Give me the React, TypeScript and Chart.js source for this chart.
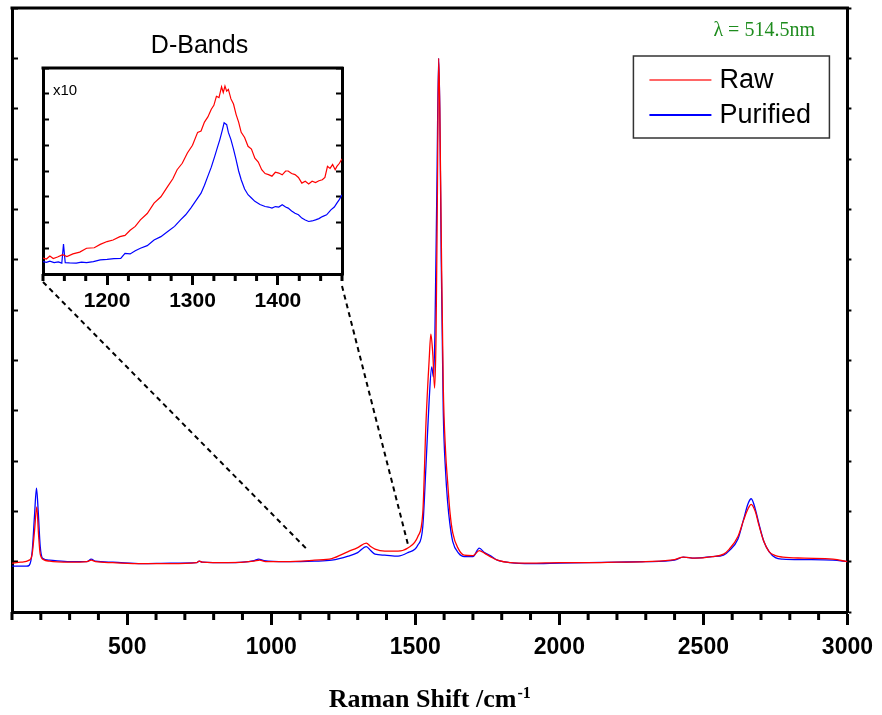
import React, { useEffect, useRef } from 'react';
import { Chart, registerables } from 'chart.js';

Chart.register(...registerables);

// ---------- Main spectrum ----------
const rawShift = [100, 130, 160, 170, 178, 186, 192, 198, 210, 230, 300, 360, 375, 390, 450, 550, 650, 740, 750, 760, 850, 940, 960, 980, 1050, 1150, 1210, 1267, 1300, 1330, 1345, 1360, 1394, 1440, 1474, 1509, 1526, 1537, 1548, 1554, 1561, 1567, 1572, 1577, 1581, 1585, 1590, 1597, 1605, 1612, 1620, 1630, 1650, 1670, 1700, 1722, 1740, 1760, 1785, 1830, 1900, 2000, 2100, 2200, 2300, 2400, 2430, 2470, 2530, 2570, 2590, 2620, 2640, 2655, 2666, 2680, 2693, 2710, 2728, 2750, 2776, 2850, 2950, 3000];
const rawIntensity = [0.97, 0.99, 1.03, 1.15, 1.6, 2.09, 1.55, 1.15, 1.04, 1.01, 0.99, 1.0, 1.03, 1.0, 0.98, 0.96, 0.96, 0.98, 1.01, 0.99, 0.98, 1.01, 1.03, 1.0, 1.0, 1.03, 1.06, 1.2, 1.28, 1.37, 1.3, 1.25, 1.21, 1.21, 1.27, 1.5, 1.97, 3.75, 5.0, 5.52, 5.1, 4.45, 5.5, 8.5, 11.0, 10.0, 7.5, 4.5, 3.2, 2.6, 2.0, 1.57, 1.25, 1.13, 1.12, 1.22, 1.17, 1.1, 1.03, 0.98, 0.97, 0.98, 0.98, 0.99, 1.0, 1.04, 1.09, 1.07, 1.1, 1.15, 1.25, 1.5, 1.83, 2.05, 2.14, 2.0, 1.72, 1.4, 1.2, 1.12, 1.09, 1.07, 1.05, 1.0];

const purShift = [100, 150, 160, 170, 178, 185, 191, 198, 206, 230, 300, 360, 375, 390, 450, 550, 650, 740, 750, 760, 850, 940, 956, 975, 1050, 1150, 1210, 1267, 1300, 1330, 1345, 1360, 1394, 1440, 1474, 1509, 1526, 1537, 1548, 1557, 1563, 1568, 1575, 1581, 1585, 1590, 1597, 1605, 1612, 1620, 1630, 1650, 1670, 1700, 1722, 1740, 1760, 1785, 1830, 1900, 2000, 2100, 2200, 2300, 2400, 2430, 2470, 2530, 2570, 2590, 2620, 2640, 2655, 2666, 2680, 2693, 2710, 2728, 2750, 2776, 2850, 2950, 3000];
const purIntensity = [0.91, 0.91, 0.93, 1.2, 1.9, 2.46, 2.0, 1.3, 1.07, 1.03, 1.0, 1.0, 1.05, 1.01, 0.99, 0.96, 0.97, 0.98, 1.01, 0.99, 0.98, 1.02, 1.05, 1.02, 1.0, 1.01, 1.03, 1.11, 1.18, 1.3, 1.22, 1.15, 1.13, 1.11, 1.18, 1.33, 1.7, 2.9, 4.2, 4.87, 4.67, 5.5, 8.5, 11.0, 10.0, 7.0, 4.0, 2.8, 2.2, 1.75, 1.4, 1.17, 1.1, 1.1, 1.27, 1.18, 1.12, 1.03, 0.98, 0.96, 0.97, 0.98, 0.99, 1.0, 1.03, 1.09, 1.07, 1.1, 1.13, 1.22, 1.45, 1.85, 2.15, 2.25, 2.05, 1.75, 1.4, 1.2, 1.08, 1.05, 1.04, 1.03, 1.0];

const mainXMin = 100;
const mainXMax = 3000;
const mainXLabels = [500, 1000, 1500, 2000, 2500, 3000];
const mainXMinorStep = 100;
const mainYMin = 0;
const mainYMax = 12;

// ---------- Inset (D-bands, x10) ----------
const insetRawShift = [1125, 1129, 1133, 1137, 1142, 1148, 1153, 1160, 1168, 1176, 1185, 1192, 1200, 1207, 1215, 1221, 1227, 1233, 1239, 1247, 1255, 1263, 1271, 1277, 1282, 1288, 1294, 1300, 1306, 1310, 1314, 1318, 1322, 1325, 1328, 1331, 1334, 1336, 1338, 1340, 1342, 1345, 1348, 1351, 1354, 1357, 1361, 1365, 1369, 1373, 1377, 1381, 1385, 1389, 1393, 1397, 1401, 1405, 1409, 1412, 1416, 1420, 1424, 1428, 1432, 1436, 1440, 1444, 1448, 1452, 1455, 1458, 1461, 1464, 1467, 1469, 1472, 1475];
const insetRawValue = [0.62, 0.58, 0.7, 0.6, 0.66, 0.75, 0.68, 0.78, 0.85, 1.0, 1.02, 1.15, 1.26, 1.32, 1.45, 1.5, 1.7, 1.85, 2.1, 2.35, 2.75, 3.0, 3.4, 3.7, 4.05, 4.3, 4.7, 5.0, 5.5, 5.55, 5.9, 6.1, 6.4, 6.55, 6.9, 6.85, 7.27, 7.05, 7.3, 7.1, 7.17, 6.8, 6.6, 6.2, 5.9, 5.5, 5.3, 4.96, 4.85, 4.5, 4.35, 4.05, 3.9, 3.86, 3.8, 3.95, 3.92, 3.85, 4.0, 4.0, 3.9, 3.86, 3.75, 3.53, 3.6, 3.5, 3.6, 3.55, 3.62, 3.66, 3.75, 4.18, 4.1, 4.25, 4.05, 4.18, 4.3, 4.47];

const insetPurShift = [1125, 1129, 1133, 1138, 1143, 1147, 1149, 1151, 1156, 1164, 1170, 1176, 1184, 1192, 1200, 1208, 1216, 1221, 1227, 1233, 1239, 1247, 1255, 1263, 1271, 1279, 1286, 1292, 1298, 1304, 1310, 1314, 1318, 1322, 1326, 1329, 1332, 1335, 1337, 1340, 1342, 1345, 1348, 1351, 1354, 1357, 1361, 1365, 1369, 1373, 1379, 1385, 1389, 1393, 1397, 1401, 1405, 1409, 1412, 1416, 1420, 1424, 1428, 1432, 1436, 1440, 1444, 1448, 1452, 1457, 1462, 1466, 1469, 1472, 1475];
const insetPurValue = [0.48, 0.45, 0.5, 0.44, 0.47, 0.42, 1.16, 0.44, 0.43, 0.42, 0.46, 0.44, 0.48, 0.55, 0.57, 0.6, 0.61, 0.8, 0.78, 0.9, 1.0, 1.1, 1.32, 1.45, 1.65, 1.85, 2.1, 2.3, 2.56, 2.85, 3.14, 3.45, 3.8, 4.15, 4.57, 4.9, 5.22, 5.6, 5.87, 5.8, 5.5, 5.22, 4.85, 4.44, 4.0, 3.66, 3.3, 3.08, 2.95, 2.82, 2.7, 2.62, 2.6, 2.56, 2.62, 2.6, 2.69, 2.6, 2.56, 2.45, 2.36, 2.3, 2.17, 2.1, 2.04, 2.06, 2.1, 2.15, 2.23, 2.3, 2.49, 2.6, 2.75, 2.9, 3.08];

const insetXMin = 1125;
const insetXMax = 1475;
const insetXLabels = [1200, 1300, 1400];
const insetXMinorStep = 25;
const insetYMin = 0;
const insetYMax = 8;
// y values on the main spectrum where the zoom guide lines meet it
const zoomLinkY = [1.24, 1.33];

const seriesLabels = ['Raw', 'Purified'];
const seriesColors = ['#FF0000', '#0000FF'];
const laserText = 'λ = 514.5nm';
const insetTitle = 'D-Bands';
const insetScaleText = 'x10';
const xTitleMain = 'Raman Shift /cm';
const xTitleSup = '-1';

const SANS = '"Liberation Sans", Arial, sans-serif';
const SERIF = '"Liberation Serif", "Times New Roman", serif';

const W = 882;
const H = 715;

function toPoints(xs: number[], ys: number[]) {
  return xs.map((x, i) => ({ x, y: ys[i] }));
}

export default function App() {
  const mainRef = useRef<HTMLCanvasElement | null>(null);
  const insetRef = useRef<HTMLCanvasElement | null>(null);

  useEffect(() => {
    document.body.style.margin = '0';
    if (!mainRef.current || !insetRef.current) return;

    const mainDecor = {
      id: 'mainDecor',
      afterDraw(chart: any) {
        const ctx = chart.ctx;
        const a = chart.chartArea;
        const xs = chart.scales.x;
        ctx.save();
        // top frame line
        ctx.strokeStyle = '#000';
        ctx.lineWidth = 3;
        ctx.beginPath();
        ctx.moveTo(a.left - 1.5, a.top);
        ctx.lineTo(a.right + 1.5, a.top);
        ctx.stroke();
        // minor x ticks
        ctx.lineWidth = 3;
        for (let v = mainXMin; v <= mainXMax; v += mainXMinorStep) {
          if (mainXLabels.includes(v)) continue;
          const px = xs.getPixelForValue(v);
          ctx.beginPath();
          ctx.moveTo(px, a.bottom);
          ctx.lineTo(px, a.bottom + 8);
          ctx.stroke();
        }
        // x title with superscript
        ctx.fillStyle = '#000';
        ctx.textBaseline = 'alphabetic';
        ctx.font = `bold 26px ${SERIF}`;
        const w1 = ctx.measureText(xTitleMain).width;
        ctx.font = `bold 16px ${SERIF}`;
        const w2 = ctx.measureText(xTitleSup).width;
        const cx = (a.left + a.right) / 2;
        const x0 = cx - (w1 + w2 + 1) / 2;
        ctx.font = `bold 26px ${SERIF}`;
        ctx.textAlign = 'left';
        ctx.fillText(xTitleMain, x0, 707);
        ctx.font = `bold 16px ${SERIF}`;
        ctx.fillText(xTitleSup, x0 + w1 + 1, 698);
        // laser wavelength
        ctx.fillStyle = '#1E8C1E';
        ctx.font = `20px ${SERIF}`;
        ctx.fillText(laserText, a.right - 134, a.top + 28);
        // legend
        const lx = a.right - 214;
        const ly = a.top + 48;
        ctx.strokeStyle = '#333';
        ctx.lineWidth = 1.5;
        ctx.strokeRect(lx, ly, 196, 82);
        ctx.font = `27px ${SANS}`;
        ctx.textBaseline = 'middle';
        chart.data.datasets.forEach((ds: any, i: number) => {
          const rowY = ly + 24 + i * 35;
          ctx.strokeStyle = ds.borderColor;
          ctx.globalAlpha = i === 0 ? 0.6 : 1;
          ctx.lineWidth = 2;
          ctx.beginPath();
          ctx.moveTo(lx + 16, rowY);
          ctx.lineTo(lx + 78, rowY);
          ctx.stroke();
          ctx.globalAlpha = 1;
          ctx.fillStyle = '#000';
          ctx.fillText(ds.label, lx + 86, rowY + 1);
        });
        ctx.restore();
      },
    };

    const mainChart = new Chart(mainRef.current, {
      type: 'line',
      data: {
        datasets: [
          {
            label: seriesLabels[0],
            data: toPoints(rawShift, rawIntensity),
            borderColor: seriesColors[0],
            borderWidth: 1.3,
            pointRadius: 0,
            cubicInterpolationMode: 'monotone',
          },
          {
            label: seriesLabels[1],
            data: toPoints(purShift, purIntensity),
            borderColor: seriesColors[1],
            borderWidth: 1.3,
            pointRadius: 0,
            cubicInterpolationMode: 'monotone',
          },
        ],
      },
      options: {
        animation: false,
        responsive: false,
        maintainAspectRatio: false,
        layout: { padding: { top: 8, left: 0, right: 0, bottom: 0 } },
        plugins: { legend: { display: false }, tooltip: { enabled: false }, title: { display: false } },
        scales: {
          x: {
            type: 'linear',
            position: 'bottom',
            min: mainXMin,
            max: mainXMax,
            afterBuildTicks: (s: any) => {
              s.ticks = mainXLabels.map((v) => ({ value: v }));
            },
            afterFit: (s: any) => {
              s.height = H - 612;
            },
            border: { display: true, width: 3, color: '#000' },
            grid: { drawOnChartArea: false, drawTicks: true, tickLength: 13, tickWidth: 3, tickColor: '#000' },
            ticks: {
              font: { family: SANS, size: 23, weight: 'bold' },
              color: '#000',
              padding: 9,
              maxRotation: 0,
              autoSkip: false,
              callback: (v: any) => String(v),
            },
          },
          y: {
            type: 'linear',
            position: 'left',
            min: mainYMin,
            max: mainYMax,
            afterFit: (s: any) => {
              s.width = 12;
            },
            border: { display: true, width: 3, color: '#000' },
            grid: { drawOnChartArea: false, drawTicks: true, tickLength: -6, tickWidth: 2, tickColor: '#000' },
            ticks: { display: false, stepSize: 1 },
          },
          y2: {
            type: 'linear',
            position: 'right',
            min: mainYMin,
            max: mainYMax,
            afterFit: (s: any) => {
              s.width = W - 851;
            },
            border: { display: true, width: 3, color: '#000' },
            grid: { drawOnChartArea: false, drawTicks: true, tickLength: 4, tickWidth: 2, tickColor: '#000' },
            ticks: { display: false, stepSize: 1 },
          },
        },
      } as any,
      plugins: [mainDecor],
    });

    const insetDecor = {
      id: 'insetDecor',
      afterDraw(chart: any) {
        const ctx = chart.ctx;
        const a = chart.chartArea;
        const xs = chart.scales.x;
        ctx.save();
        ctx.strokeStyle = '#000';
        ctx.lineWidth = 3;
        ctx.beginPath();
        ctx.moveTo(a.left - 1.5, a.top);
        ctx.lineTo(a.right + 1.5, a.top);
        ctx.stroke();
        for (let v = insetXMin; v <= insetXMax; v += insetXMinorStep) {
          if (insetXLabels.includes(v)) continue;
          const px = xs.getPixelForValue(v);
          ctx.beginPath();
          ctx.moveTo(px, a.bottom);
          ctx.lineTo(px, a.bottom + 7);
          ctx.stroke();
        }
        ctx.fillStyle = '#000';
        ctx.textAlign = 'center';
        ctx.textBaseline = 'alphabetic';
        ctx.font = `25px ${SANS}`;
        ctx.fillText(insetTitle, (a.left + a.right) / 2 + 7, a.top - 15);
        ctx.textAlign = 'left';
        ctx.font = `15px ${SANS}`;
        ctx.fillText(insetScaleText, a.left + 10, a.top + 27);
        // zoom guide lines to the main spectrum
        const mx = mainChart.scales.x;
        const my = mainChart.scales.y;
        ctx.setLineDash([5, 4]);
        ctx.lineWidth = 2;
        ctx.beginPath();
        ctx.moveTo(a.left, a.bottom + 8);
        ctx.lineTo(mx.getPixelForValue(insetXMin), my.getPixelForValue(zoomLinkY[0]));
        ctx.moveTo(a.right, a.bottom + 12);
        ctx.lineTo(mx.getPixelForValue(insetXMax), my.getPixelForValue(zoomLinkY[1]));
        ctx.stroke();
        ctx.restore();
      },
    };

    const insetChart = new Chart(insetRef.current, {
      type: 'line',
      data: {
        datasets: [
          {
            label: seriesLabels[0],
            data: toPoints(insetRawShift, insetRawValue),
            borderColor: seriesColors[0],
            borderWidth: 1.2,
            pointRadius: 0,
            tension: 0,
          },
          {
            label: seriesLabels[1],
            data: toPoints(insetPurShift, insetPurValue),
            borderColor: seriesColors[1],
            borderWidth: 1.2,
            pointRadius: 0,
            tension: 0,
          },
        ],
      },
      options: {
        animation: false,
        responsive: false,
        maintainAspectRatio: false,
        layout: { padding: { top: 68, left: 0, right: 0, bottom: 0 } },
        plugins: { legend: { display: false }, tooltip: { enabled: false }, title: { display: false } },
        scales: {
          x: {
            type: 'linear',
            position: 'bottom',
            min: insetXMin,
            max: insetXMax,
            afterBuildTicks: (s: any) => {
              s.ticks = insetXLabels.map((v) => ({ value: v }));
            },
            afterFit: (s: any) => {
              s.height = H - 274;
            },
            border: { display: true, width: 3, color: '#000' },
            grid: { drawOnChartArea: false, drawTicks: true, tickLength: 11, tickWidth: 3, tickColor: '#000' },
            ticks: {
              font: { family: SANS, size: 21, weight: 'bold' },
              color: '#000',
              padding: 4,
              maxRotation: 0,
              autoSkip: false,
              callback: (v: any) => String(v),
            },
          },
          y: {
            type: 'linear',
            position: 'left',
            min: insetYMin,
            max: insetYMax,
            afterFit: (s: any) => {
              s.width = 43;
            },
            border: { display: true, width: 3, color: '#000' },
            grid: { drawOnChartArea: false, drawTicks: true, tickLength: -6, tickWidth: 2, tickColor: '#000' },
            ticks: { display: false, stepSize: 1 },
          },
          y2: {
            type: 'linear',
            position: 'right',
            min: insetYMin,
            max: insetYMax,
            afterFit: (s: any) => {
              s.width = W - 342;
            },
            border: { display: true, width: 3, color: '#000' },
            grid: { drawOnChartArea: false, drawTicks: true, tickLength: -6, tickWidth: 2, tickColor: '#000' },
            ticks: { display: false, stepSize: 1 },
          },
        },
      } as any,
      plugins: [insetDecor],
    });

    return () => {
      insetChart.destroy();
      mainChart.destroy();
    };
  }, []);

  return (
    <div style={{ position: 'relative', width: W, height: H, background: '#fff' }}>
      <canvas ref={mainRef} width={W} height={H} style={{ position: 'absolute', left: 0, top: 0 }} />
      <canvas
        ref={insetRef}
        width={W}
        height={H}
        style={{ position: 'absolute', left: 0, top: 0, pointerEvents: 'none' }}
      />
    </div>
  );
}
